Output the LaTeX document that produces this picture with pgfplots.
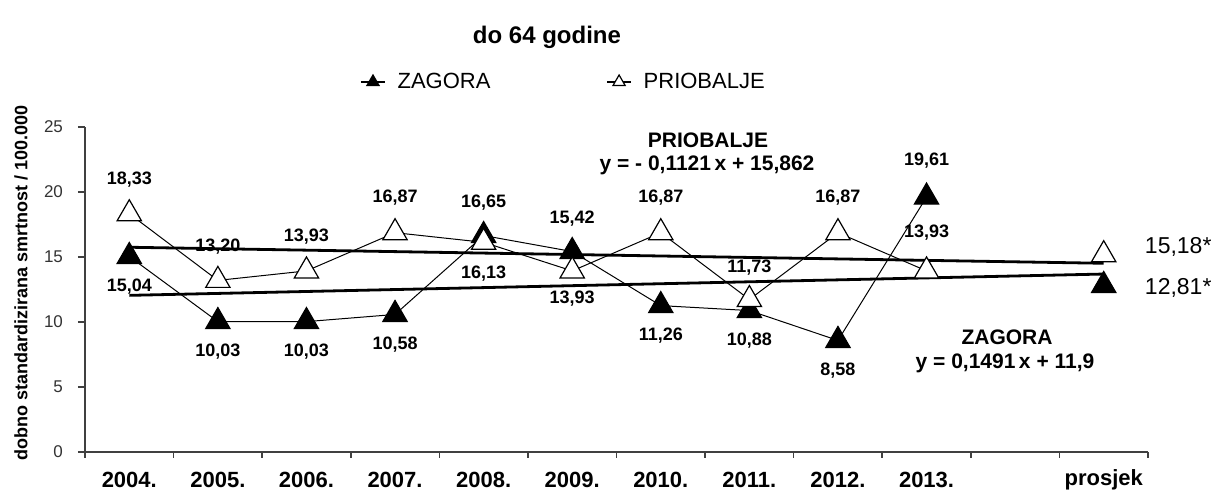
\documentclass[border=0pt]{standalone}
\usepackage{pgfplots}
\pgfplotsset{compat=1.18}
\usepackage{pgfplotstable}
\usepackage{fontspec}
\setmainfont{Liberation Sans}

\pgfplotstableread{
x y lab dy
0 15.04 15,04 -15
1 10.03 10,03 -15
2 10.03 10,03 -15
3 10.58 10,58 -15
4 16.65 16,65 16.5
5 15.42 15,42 16.5
6 11.26 11,26 -15
7 10.88 10,88 -15
8 8.58 8,58 -15
9 19.61 19,61 18
}\zagora
\pgfplotstableread{
x y lab dy
0 18.33 18,33 17
1 13.20 13,20 17
2 13.93 13,93 17
3 16.87 16,87 17.5
4 16.13 16,13 -15.5
5 13.93 13,93 -14
6 16.87 16,87 17.5
7 11.73 11,73 16
8 16.87 16,87 17.5
9 13.93 13,93 19
}\priobalje

\begin{document}
\begin{tikzpicture}
\path[use as bounding box] (-42.5pt,-20pt) rectangle (563pt,226pt);
\begin{axis}[
  at={(0,0)}, anchor=south west,
  scale only axis, width=531.5pt, height=162.5pt,
  xmin=-0.5, xmax=11.5, ymin=0, ymax=25,
  clip=false,
  axis x line=bottom, axis y line=left,
  axis line style={-, draw=black!75, line width=0.8pt},
  xtick={0,...,11},
  xticklabels={2004.,2005.,2006.,2007.,2008.,2009.,2010.,2011.,2012.,2013.,{},prosjek},
  minor xtick={-0.5,0.5,...,11.5},
  major x tick style={draw=none},
  minor x tick style={draw=black!75, line width=0.8pt},
  y tick style={draw=black!75, line width=0.8pt},
  tick align=outside, major tick length=3.5pt, minor tick length=3pt,
  ytick={0,5,...,25},
  /pgf/number format/assume math mode=true,
  xticklabel style={font=\bfseries\fontsize{11}{13}\selectfont, anchor=center, yshift=-10.5pt},
  yticklabel style={font=\fontsize{8.5}{10}\selectfont, text=black!80, xshift=-4pt},
  ylabel={dobno standardizirana smrtnost / 100.000},
  every axis y label/.style={at={(axis description cs:-0.0602,0.52)}, rotate=90, anchor=center, font=\bfseries\fontsize{9}{11}\selectfont},
  legend style={draw=none, fill=none, at={(0.2587,1.1385)}, anchor=west,
    legend columns=2, font=\fontsize{11}{13}\selectfont,
    /tikz/every odd column/.append style={column sep=4pt},
    /tikz/every even column/.append style={column sep=56pt}, inner sep=0pt},
  legend cell align=left,
  legend image code/.code={\draw[#1, mark size=3.5pt, line width=0.6pt, mark repeat=2, mark phase=2] plot coordinates {(0pt,0pt) (6pt,0pt) (12pt,0pt)};},
]
% trend lines
\addplot[black, line width=1.4pt, forget plot] coordinates {(0,15.7499) (11,14.5168)};
\addplot[black, line width=1.4pt, forget plot] coordinates {(0,12.0491) (11,13.6892)};

\addplot[black, line width=0.5pt, mark=triangle*, mark size=7pt,
  mark options={fill=black, draw=black, line width=0.6pt},
  nodes near coords, point meta=explicit symbolic,
  visualization depends on={\thisrow{dy} \as \dy},
  every node near coord/.append style={anchor=center, yshift=\dy, font=\bfseries\fontsize{9}{11}\selectfont, text=black}]
  table[x=x, y=y, meta=lab] {\zagora};
\addlegendentry{ZAGORA}

\addplot[black, line width=0.5pt, mark=triangle*, mark size=7pt,
  mark options={fill=white, draw=black, line width=0.6pt},
  nodes near coords, point meta=explicit symbolic,
  visualization depends on={\thisrow{dy} \as \dy},
  every node near coord/.append style={anchor=center, yshift=\dy, font=\bfseries\fontsize{9}{11}\selectfont, text=black}]
  table[x=x, y=y, meta=lab] {\priobalje};
\addlegendentry{PRIOBALJE}

% averages
\addplot[only marks, mark=triangle*, mark size=7pt,
  mark options={fill=white, draw=black, line width=0.6pt},
  nodes near coords, point meta=explicit symbolic,
  every node near coord/.append style={anchor=west, xshift=17pt, yshift=4pt, font=\fontsize{11.5}{13}\selectfont, text=black}, forget plot]
  coordinates {(11,15.18) [15,18*]};
\addplot[only marks, mark=triangle*, mark size=7pt,
  mark options={fill=black, draw=black, line width=0.6pt},
  nodes near coords, point meta=explicit symbolic,
  every node near coord/.append style={anchor=west, xshift=17pt, yshift=-1pt, font=\fontsize{11.5}{13}\selectfont, text=black}, forget plot]
  coordinates {(11,12.81) [12,81*]};
\end{axis}
\node[font=\bfseries\fontsize{12}{14}\selectfont] at (231pt,207.5pt) {do 64 godine};
\node[font=\bfseries\fontsize{10.5}{12}\selectfont] at (311.5pt,156pt) {PRIOBALJE};
\node[font=\bfseries\fontsize{10.5}{12}\selectfont] at (311pt,143.5pt) {y = - 0,1121\,x + 15,862};
\node[font=\bfseries\fontsize{10.5}{12}\selectfont] at (461pt,57.5pt) {ZAGORA};
\node[font=\bfseries\fontsize{10.5}{12}\selectfont] at (460pt,44.5pt) {y = 0,1491\,x + 11,9};
\end{tikzpicture}
\end{document}
